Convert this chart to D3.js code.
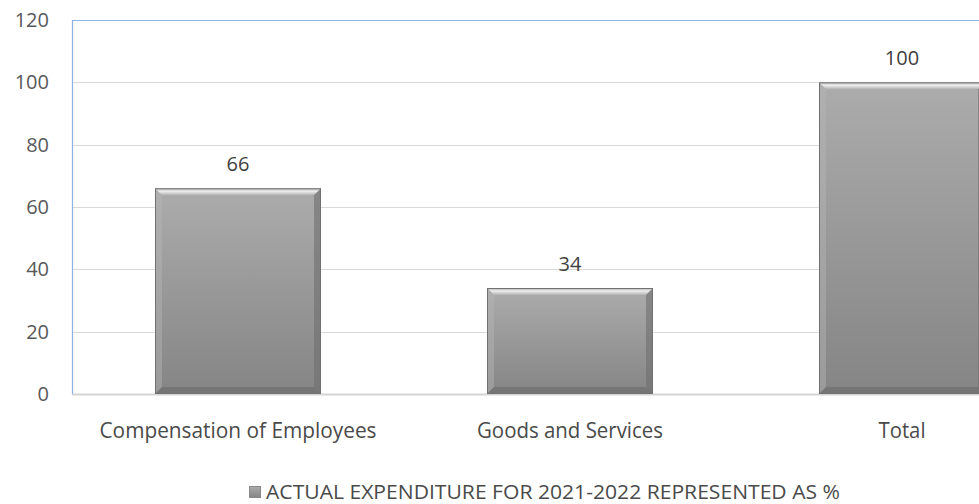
<!DOCTYPE html>
<html><head><meta charset="utf-8">
<script src="https://cdn.jsdelivr.net/npm/d3@7/dist/d3.min.js"></script>
<style>html,body{margin:0;padding:0;background:#fff;overflow:hidden}</style>
</head><body><svg id="c" width="979" height="504"></svg>
<script>
const categories = ["Compensation of Employees", "Goods and Services", "Total"];
const values = [66, 34, 100];
const yTicks = [0, 20, 40, 60, 80, 100, 120];
const seriesName = "ACTUAL EXPENDITURE FOR 2021-2022 REPRESENTED AS %";

(function(){
const svg = d3.select("#c");
const W = 979;
const pLeft = 72, pTop = 20, pBottom = 394, pRight = 1068;
const x = d3.scaleBand().domain(categories).range([pLeft, pRight]).paddingInner(0.5).paddingOuter(0.25);
const y = d3.scaleLinear().domain([0, 120]).range([pBottom, pTop]);
const font = "'Open Sans', sans-serif";
const labelWidths = [277, 186, 47]; // rendered widths of category labels (layout)

const defs = svg.append("defs");
const g1 = defs.append("linearGradient").attr("id","bg").attr("x1",0).attr("y1",0).attr("x2",0).attr("y2",1);
g1.append("stop").attr("offset","0%").attr("stop-color","#acacac");
g1.append("stop").attr("offset","100%").attr("stop-color","#858585");
const gt = defs.append("linearGradient").attr("id","tb").attr("x1",0).attr("y1",0).attr("x2",0).attr("y2",1);
gt.append("stop").attr("offset","0%").attr("stop-color","#bdbdbd");
gt.append("stop").attr("offset","45%").attr("stop-color","#ebebeb");
gt.append("stop").attr("offset","100%").attr("stop-color","#b0b0b0");

svg.append("g").selectAll("line").data(yTicks.filter(d=>d>0&&d<120)).join("line")
  .attr("x1", pLeft).attr("x2", W).attr("y1", d=>Math.round(y(d))+0.5).attr("y2", d=>Math.round(y(d))+0.5)
  .attr("stroke", "#d9d9d9").attr("stroke-width", 1);
svg.append("line").attr("x1", pLeft).attr("x2", W).attr("y1", y(0)+0.5).attr("y2", y(0)+0.5)
  .attr("stroke","#d4d4d4").attr("stroke-width",2);
svg.append("line").attr("x1", pLeft+0.5).attr("x2", W).attr("y1", y(120)+0.5).attr("y2", y(120)+0.5)
  .attr("stroke","#8db3e2").attr("stroke-width",1);
svg.append("line").attr("x1", pLeft+0.5).attr("x2", pLeft+0.5).attr("y1", y(120)).attr("y2", y(0))
  .attr("stroke","#8db3e2").attr("stroke-width",1.2);

svg.append("g").selectAll("text").data(yTicks).join("text")
  .attr("x", 49).attr("y", d=>y(d)+7).attr("text-anchor","end")
  .attr("font-family", font).attr("font-size", 20).attr("fill","#595959").text(d=>d);

const bw = x.bandwidth();
const bev = 7;
const bars = svg.append("g").selectAll("g").data(categories.map((c,i)=>({c, v: values[i]}))).join("g");
bars.append("rect").attr("x", d=>x(d.c)).attr("y", d=>y(d.v)).attr("width", bw).attr("height", d=>y(0)-y(d.v))
  .attr("fill","url(#bg)");
bars.append("path").attr("d", d=>{const x0=x(d.c), x1=x0+bw, y0=y(d.v);
  return `M${x0},${y0}L${x1},${y0}L${x1-bev},${y0+bev}L${x0+bev},${y0+bev}Z`;}).attr("fill","url(#tb)");
bars.append("path").attr("d", d=>{const x0=x(d.c), y0=y(d.v), y1=y(0);
  return `M${x0},${y0}L${x0+bev},${y0+bev}L${x0+bev},${y1-bev}L${x0},${y1}Z`;}).attr("fill","#b5b5b5").attr("opacity",0.45);
bars.append("path").attr("d", d=>{const x1=x(d.c)+bw, y0=y(d.v), y1=y(0);
  return `M${x1},${y0}L${x1-bev},${y0+bev}L${x1-bev},${y1-bev}L${x1},${y1}Z`;}).attr("fill","#6e6e6e").attr("opacity",0.6);
bars.append("path").attr("d", d=>{const x0=x(d.c), x1=x0+bw, y1=y(0);
  return `M${x0},${y1}L${x1},${y1}L${x1-bev},${y1-bev}L${x0+bev},${y1-bev}Z`;}).attr("fill","#6a6a6a").attr("opacity",0.6);
bars.append("rect").attr("x", d=>x(d.c)+0.5).attr("y", d=>y(d.v)+0.5).attr("width", bw-1).attr("height", d=>y(0)-y(d.v)-1)
  .attr("fill","none").attr("stroke","#707070").attr("stroke-width",1);

bars.append("text").attr("x", d=>x(d.c)+bw/2).attr("y", d=>y(d.v)-17).attr("text-anchor","middle")
  .attr("font-family", font).attr("font-size", 20).attr("fill","#404040").text(d=>d.v);

svg.append("g").selectAll("text").data(categories).join("text")
  .attr("x", d=>x(d)+bw/2).attr("y", 438).attr("text-anchor","middle")
  .attr("font-family", font).attr("font-size", 21).attr("fill","#4a4a4a")
  .attr("textLength", (d,i)=>labelWidths[i]).attr("lengthAdjust","spacingAndGlyphs").text(d=>d);

const lg = svg.append("g");
lg.append("rect").attr("x", 249.5).attr("y", 486.5).attr("width", 11).attr("height", 11)
  .attr("fill","url(#bg)").attr("stroke","#8a8a8a").attr("stroke-width",1);
lg.append("text").attr("x", 266).attr("y", 499).attr("font-family", font).attr("font-size", 20)
  .attr("fill","#4a4a4a").attr("textLength", 574).attr("lengthAdjust","spacingAndGlyphs").text(seriesName);
})();
</script></body></html>
